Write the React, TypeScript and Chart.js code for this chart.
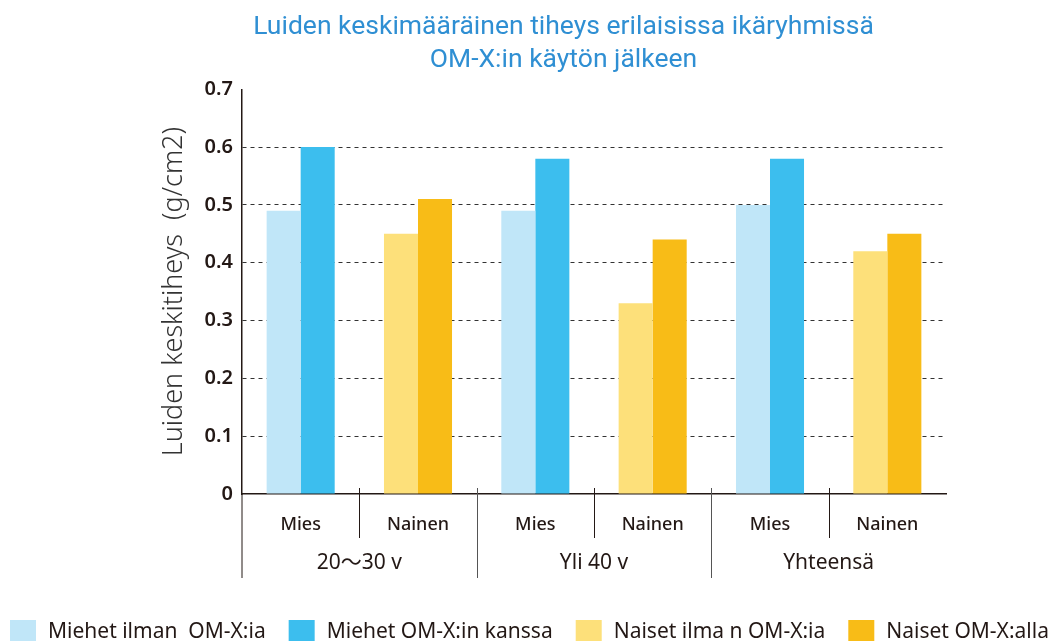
import React, { useEffect, useRef } from "react";
import { Chart, registerables } from "chart.js";

Chart.register(...registerables);

const subCategories = ["Mies", "Nainen", "Mies", "Nainen", "Mies", "Nainen"];
const groupLabels = ["20〜30 v", "Yli 40 v", "Yhteensä"];
const seriesNames = [
  "Miehet ilman  OM-X:ia",
  "Miehet OM-X:in kanssa",
  "Naiset ilma n OM-X:ia",
  "Naiset OM-X:alla",
];
const menWithout = [0.49, null, 0.49, null, 0.5, null];
const menWith = [0.6, null, 0.58, null, 0.58, null];
const womenWithout = [null, 0.45, null, 0.33, null, 0.42];
const womenWith = [null, 0.51, null, 0.44, null, 0.45];
const seriesColors = ["#c0e6f8", "#3cbeee", "#fde07a", "#f8bc17"];
const titleLines = ["Luiden keskimääräinen tiheys erilaisissa ikäryhmissä", "OM-X:in käytön jälkeen"];
const yAxisTitle = "Luiden keskitiheys  (g/cm2)";
const yMin = 0;
const yMax = 0.7;
const yStep = 0.1;

const FONT = "'Noto Sans', 'Noto Sans CJK JP', sans-serif";
const INK = "#231815";

const separatorPlugin = {
  id: "separators",
  afterDraw(chart: any) {
    const { ctx, chartArea } = chart;
    const xs = chart.scales.x;
    const n = subCategories.length;
    const w = xs.getPixelForValue(1) - xs.getPixelForValue(0);
    ctx.save();
    ctx.lineWidth = 1;
    ctx.strokeStyle = INK;
    ctx.beginPath();
    ctx.moveTo(chartArea.left, chartArea.bottom);
    ctx.lineTo(chartArea.left, chartArea.bottom + 84);
    ctx.stroke();
    for (let i = 1; i < n; i++) {
      const bx = Math.round(xs.getPixelForValue(i) - w / 2) + 0.5;
      const isGroup = i % 2 === 0;
      ctx.strokeStyle = isGroup ? "#555555" : INK;
      ctx.beginPath();
      ctx.moveTo(bx, chartArea.bottom - 6);
      ctx.lineTo(bx, chartArea.bottom + (isGroup ? 84 : 44));
      ctx.stroke();
    }
    ctx.fillStyle = INK;
    ctx.font = `21px ${FONT}`;
    ctx.textAlign = "center";
    ctx.textBaseline = "middle";
    groupLabels.forEach((g, gi) => {
      const cx = (xs.getPixelForValue(gi * 2) + xs.getPixelForValue(gi * 2 + 1)) / 2;
      ctx.fillText(g, cx, chartArea.bottom + 69);
    });
    ctx.restore();
  },
};

const legendPlugin = {
  id: "customLegend",
  afterDraw(chart: any) {
    const { ctx } = chart;
    ctx.save();
    ctx.font = `21px ${FONT}`;
    ctx.textBaseline = "middle";
    ctx.textAlign = "left";
    let x = 10;
    const y = 620;
    chart.data.datasets.forEach((ds: any) => {
      ctx.fillStyle = ds.backgroundColor;
      ctx.fillRect(x, y, 26, 21);
      ctx.fillStyle = INK;
      ctx.fillText(ds.label, x + 38, y + 12);
      x += 38 + ctx.measureText(ds.label).width + 23;
    });
    ctx.restore();
  },
};

export default function App() {
  const ref = useRef<HTMLCanvasElement | null>(null);
  useEffect(() => {
    document.body.style.margin = "0";
    if (!ref.current) return;
    const series = [menWithout, menWith, womenWithout, womenWith];
    const chart = new Chart(ref.current, {
      type: "bar",
      data: {
        labels: subCategories,
        datasets: series.map((d, i) => ({
          label: seriesNames[i],
          data: d,
          backgroundColor: seriesColors[i],
          borderWidth: 0,
          skipNull: true,
          barPercentage: 1,
          categoryPercentage: 0.58,
        })),
      },
      options: {
        animation: false,
        responsive: true,
        maintainAspectRatio: false,
        layout: { padding: { left: 181, right: 116, top: 0, bottom: 0 } },
        plugins: {
          legend: { display: false },
          tooltip: { enabled: false },
          title: {
            display: true,
            text: titleLines,
            color: "#2f8fd3",
            font: { family: "Roboto, 'Noto Sans', sans-serif", size: 26.5, weight: "normal", lineHeight: 1.25 },
            padding: { top: 11, bottom: 12 },
          },
        },
        scales: {
          x: {
            grid: { display: false, drawTicks: false },
            border: { display: true, color: INK, width: 1.5 },
            ticks: { color: INK, font: { family: FONT, size: 18, weight: 500 }, padding: 20 },
            afterFit(scale: any) {
              scale.height = 147;
            },
          },
          y: {
            min: yMin,
            max: yMax,
            ticks: {
              stepSize: yStep,
              color: INK,
              font: { family: FONT, size: 20, weight: 600 },
              padding: 9,
              callback: (v: any) => (Number(v) === 0 ? "0" : Number(v).toFixed(1)),
            },
            grid: {
              drawTicks: false,
              color: (c: any) =>
                c.tick && (Math.abs(c.tick.value) < 1e-9 || Math.abs(c.tick.value - yMax) < 1e-9)
                  ? "rgba(0,0,0,0)"
                  : "#333333",
              lineWidth: 1,
            },
            border: { display: true, color: INK, width: 1.5, dash: [4, 4] },
            title: {
              display: true,
              text: yAxisTitle,
              color: "#333333",
              font: { family: FONT, size: 27, weight: 300, lineHeight: 1.2 },
              padding: { top: -23, bottom: 0 },
            },
            afterFit(scale: any) {
              scale.width = 61;
            },
          },
        },
      },
      plugins: [separatorPlugin, legendPlugin],
    });
    return () => chart.destroy();
  }, []);
  return (
    <div style={{ width: 1062, height: 641, position: "relative" }}>
      <canvas ref={ref} />
    </div>
  );
}
